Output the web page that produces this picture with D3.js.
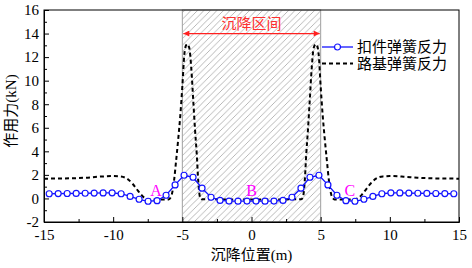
<!DOCTYPE html>
<html lang="zh-cn">

<head>
    <meta charset="UTF-8">
    <script src="https://cdn.jsdelivr.net/npm/d3@7"></script>
    <title>沉降区间</title>
</head>
<style>
    body {
        margin: 0;
        background: #fff;
    }

    text {
        font-family: "Liberation Serif", "Noto Sans CJK SC", serif;
    }
</style>

<body>

</body>
<script>
    // 坐标刻度
    var xTicks = [-15, -10, -5, 0, 5, 10, 15];
    var xMinorTicks = [-12.5, -7.5, -2.5, 2.5, 7.5, 12.5];
    var yTicks = [-2, 0, 2, 4, 6, 8, 10, 12, 14, 16];
    var yMinorTicks = [-1, 1, 3, 5, 7, 9, 11, 13, 15];

    // 扣件弹簧反力
    var fastenerX = [-14.625, -13.975, -13.325, -12.675, -12.025, -11.375, -10.725, -10.075, -9.425, -8.775,
        -8.125, -7.475, -6.825, -6.175, -5.525, -4.875, -4.225, -3.575, -2.925, -2.275, -1.625, -0.975, -0.325,
        0.325, 0.975, 1.625, 2.275, 2.925, 3.575, 4.225, 4.875, 5.525, 6.175, 6.825, 7.475, 8.125, 8.775,
        9.425, 10.075, 10.725, 11.375, 12.025, 12.675, 13.325, 13.975, 14.625];
    var fastenerY = [0.40, 0.41, 0.42, 0.43, 0.44, 0.46, 0.47, 0.48, 0.40, 0.17,
        -0.07, -0.24, -0.19, 0.27, 1.15, 1.97, 1.80, 0.87, 0.10, -0.17, -0.22, -0.23, -0.22,
        -0.22, -0.23, -0.22, -0.17, 0.10, 0.87, 1.80, 1.97, 1.15, 0.27, -0.19, -0.24, -0.07, 0.17,
        0.40, 0.48, 0.47, 0.46, 0.44, 0.43, 0.42, 0.41, 0.40];

    // 路基弹簧反力
    var subgradeX = [-15, -14, -13, -12, -11, -10, -9.5, -9, -8.6, -8.3, -8, -7.7, -7.4, -7, -6.5, -6, -5.8,
        -5.6, -5.45, -5.3, -5.15, -5, -4.85, -4.75, -4.65, -4.5, -4.35, -4.2, -4.08, -3.96, -3.85, -3.72, -3.6,
        -2, 0, 2,
        3.6, 3.72, 3.85, 3.96, 4.08, 4.2, 4.35, 4.5, 4.65, 4.75, 4.85, 5, 5.15, 5.3, 5.45, 5.6,
        5.8, 6, 6.5, 7, 7.4, 7.7, 8, 8.3, 8.6, 9, 9.5, 10, 11, 12, 13, 14, 15];
    var subgradeY = [1.68, 1.69, 1.71, 1.76, 1.85, 1.90, 1.87, 1.68, 1.25, 0.80, 0.35, 0.02, -0.08, -0.10, -0.10, -0.08, 0.2,
        1.5, 3.2, 5.0, 7.0, 9.5, 12.3, 12.95, 13.1, 12.8, 11.0, 8.1, 5.8, 3.8, 1.5, 0.1, -0.07,
        -0.08, -0.08, -0.08,
        -0.07, 0.1, 1.5, 3.8, 5.8, 8.1, 11.0, 12.8, 13.1, 12.95, 12.3, 9.5, 7.0, 5.0, 3.2, 1.5,
        0.2, -0.08, -0.10, -0.10, -0.08, 0.02, 0.35, 0.80, 1.25, 1.68, 1.87, 1.90, 1.85, 1.76, 1.71, 1.69, 1.68];

    var seriesNames = ["扣件弹簧反力", "路基弹簧反力"];
    var zoneRange = [-5, 5];
    var zoneLabel = "沉降区间";
    var zoneArrowY = 14;
    var pointLabels = ["A", "B", "C"];
    var pointLabelX = [-6.9, 0, 7.1];
    var pointLabelY = [0.25, 0.25, 0.25];

    var width = 472,
        height = 268;
    var margin = {
        top: 10,
        right: 13,
        bottom: 46,
        left: 44
    };

    var x = d3.scaleLinear().domain([-15, 15]).range([margin.left, width - margin.right]);
    var y = d3.scaleLinear().domain([-2, 16]).range([height - margin.bottom, margin.top]);

    var svg = d3.select("body")
        .append("svg")
        .attr("width", width)
        .attr("height", height);

    var defs = svg.append("defs");

    defs.append("pattern")
        .attr("id", "hatch")
        .attr("patternUnits", "userSpaceOnUse")
        .attr("width", 6.5)
        .attr("height", 6.5)
        .append("path")
        .attr("d", "M0,6.5 L6.5,0 M-1,1 L1,-1 M5.5,7.5 L7.5,5.5")
        .attr("stroke", "#9a9a9a")
        .attr("stroke-width", 0.7);

    defs.append("marker")
        .attr("id", "arrow")
        .attr("viewBox", "0 0 10 10")
        .attr("refX", 10)
        .attr("refY", 5)
        .attr("markerUnits", "userSpaceOnUse")
        .attr("markerWidth", 8)
        .attr("markerHeight", 6)
        .attr("orient", "auto-start-reverse")
        .append("path")
        .attr("d", "M0,0 L10,5 L0,10 Z")
        .attr("fill", "#ff2020");

    // 沉降区间阴影
    svg.append("rect")
        .attr("x", x(zoneRange[0]))
        .attr("y", y(16))
        .attr("width", x(zoneRange[1]) - x(zoneRange[0]))
        .attr("height", y(-2) - y(16))
        .attr("fill", "url(#hatch)")
        .attr("stroke", "#a0a0a0")
        .attr("stroke-width", 1);

    svg.append("line")
        .attr("x1", x(zoneRange[0]) + 1)
        .attr("x2", x(zoneRange[1]) - 1)
        .attr("y1", y(zoneArrowY))
        .attr("y2", y(zoneArrowY))
        .attr("stroke", "#ff2020")
        .attr("stroke-width", 1.3)
        .attr("marker-start", "url(#arrow)")
        .attr("marker-end", "url(#arrow)");

    svg.append("text")
        .attr("x", (x(zoneRange[0]) + x(zoneRange[1])) / 2)
        .attr("y", y(zoneArrowY) - 5)
        .attr("text-anchor", "middle")
        .attr("fill", "#ff3030")
        .style("font-size", "15px")
        .text(zoneLabel);

    // 曲线
    var subgradeLine = d3.line()
        .x(function(d, i) { return x(subgradeX[i]); })
        .y(function(d) { return y(d); })
        .curve(d3.curveMonotoneX);

    svg.append("path")
        .datum(subgradeY)
        .attr("d", subgradeLine)
        .attr("fill", "none")
        .attr("stroke", "#000")
        .attr("stroke-width", 2)
        .attr("stroke-dasharray", "4,3");

    var fastenerLine = d3.line()
        .x(function(d, i) { return x(fastenerX[i]); })
        .y(function(d) { return y(d); });

    svg.append("path")
        .datum(fastenerY)
        .attr("d", fastenerLine)
        .attr("fill", "none")
        .attr("stroke", "#1414ff")
        .attr("stroke-width", 1.3);

    svg.selectAll(".pt")
        .data(fastenerY)
        .enter()
        .append("circle")
        .attr("class", "pt")
        .attr("cx", function(d, i) { return x(fastenerX[i]); })
        .attr("cy", function(d) { return y(d); })
        .attr("r", 3)
        .attr("fill", "#fff")
        .attr("stroke", "#1414ff")
        .attr("stroke-width", 1.2);

    // A B C
    svg.selectAll(".plabel")
        .data(pointLabels)
        .enter()
        .append("text")
        .attr("class", "plabel")
        .attr("x", function(d, i) { return x(pointLabelX[i]); })
        .attr("y", function(d, i) { return y(pointLabelY[i]); })
        .attr("text-anchor", "middle")
        .attr("fill", "#ff00ff")
        .style("font-size", "16px")
        .text(function(d) { return d; });

    // 坐标轴
    var fmt = function(d) { return String(d); };

    svg.append("g")
        .attr("transform", "translate(0," + y(-2) + ")")
        .call(d3.axisBottom(x).tickValues(xTicks).tickFormat(fmt).tickSize(-5).tickSizeOuter(0).tickPadding(7));
    svg.append("g")
        .attr("transform", "translate(0," + y(-2) + ")")
        .call(d3.axisBottom(x).tickValues(xMinorTicks).tickFormat("").tickSize(-3).tickSizeOuter(0));

    svg.append("g")
        .attr("transform", "translate(" + x(-15) + ",0)")
        .call(d3.axisLeft(y).tickValues(yTicks).tickFormat(fmt).tickSize(-5).tickSizeOuter(0).tickPadding(5));
    svg.append("g")
        .attr("transform", "translate(" + x(-15) + ",0)")
        .call(d3.axisLeft(y).tickValues(yMinorTicks).tickFormat("").tickSize(-3).tickSizeOuter(0));

    svg.selectAll(".tick text")
        .style("font-size", "15px")
        .attr("fill", "#000");
    svg.selectAll(".domain, .tick line").attr("stroke", "#000");

    svg.append("rect")
        .attr("x", x(-15))
        .attr("y", y(16))
        .attr("width", x(15) - x(-15))
        .attr("height", y(-2) - y(16))
        .attr("fill", "none")
        .attr("stroke", "#000")
        .attr("stroke-width", 1);

    svg.append("text")
        .attr("x", (x(-15) + x(15)) / 2)
        .attr("y", 260)
        .attr("text-anchor", "middle")
        .style("font-size", "15px")
        .text("沉降位置(m)");

    svg.append("text")
        .attr("transform", "translate(11," + ((y(16) + y(-2)) / 2 - 5) + ") rotate(-90)")
        .attr("text-anchor", "middle")
        .attr("dy", "0.35em")
        .style("font-size", "15px")
        .text("作用力(kN)");

    // 图例
    var legend = svg.append("g").attr("transform", "translate(322,47)");
    legend.append("line")
        .attr("x1", 0).attr("x2", 31).attr("y1", 0).attr("y2", 0)
        .attr("stroke", "#1414ff").attr("stroke-width", 1.3);
    legend.append("circle")
        .attr("cx", 15.5).attr("cy", 0).attr("r", 3)
        .attr("fill", "#fff").attr("stroke", "#1414ff").attr("stroke-width", 1.2);
    legend.append("line")
        .attr("x1", 0).attr("x2", 31).attr("y1", 16.5).attr("y2", 16.5)
        .attr("stroke", "#000").attr("stroke-width", 2).attr("stroke-dasharray", "4,3");
    legend.selectAll(".ltext")
        .data(seriesNames)
        .enter()
        .append("text")
        .attr("class", "ltext")
        .attr("x", 35)
        .attr("y", function(d, i) { return i * 16.5; })
        .attr("dy", "0.35em")
        .style("font-size", "15px")
        .text(function(d) { return d; });
</script>

</html>
